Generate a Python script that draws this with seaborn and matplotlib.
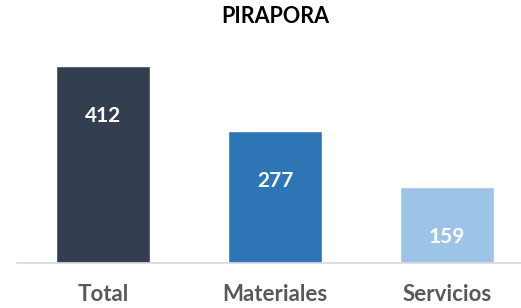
import matplotlib
matplotlib.use("Agg")
import matplotlib.pyplot as plt
import seaborn as sns
import pandas as pd

# data
categorias = ['Total', 'Materiales', 'Servicios']
valores = [412, 277, 159]
colores = ['#333f50', '#2e75b6', '#9dc3e6']

df = pd.DataFrame({'categoria': categorias, 'valor': valores})

sns.set_style("white")
plt.rcParams['font.family'] = ['Lato', 'DejaVu Sans']

fig = plt.figure(figsize=(5.21, 3.08), dpi=100)
ax = fig.add_axes([0.033, 0.146, 0.967, 0.698])

sns.barplot(data=df, x='categoria', y='valor', hue='categoria',
            palette=colores, width=0.55, legend=False, ax=ax, saturation=1)

ax.set_ylim(0, 450)
ax.set_xlim(-0.5, 2.43)

# value labels inside the bars
for i, v in enumerate(valores):
    ax.annotate(str(v), (i, v), xytext=(0, -50), textcoords='offset pixels',
                ha='center', va='center', color='white',
                fontsize=15, fontweight='bold')

for s in ['top', 'right', 'left']:
    ax.spines[s].set_visible(False)
ax.spines['bottom'].set_color('#d9d9d9')
ax.spines['bottom'].set_linewidth(1.2)

ax.set_yticks([])
ax.set_xlabel('')
ax.set_ylabel('')
ax.tick_params(axis='x', length=0, pad=15, labelsize=16, labelcolor='#595959')
for lbl in ax.get_xticklabels():
    lbl.set_fontweight('bold')

fig.text(0.528, 0.945, 'PIRAPORA', ha='center', va='center',
         fontsize=15.5, fontweight='bold', color='black')

fig.savefig('out.png', dpi=100)
